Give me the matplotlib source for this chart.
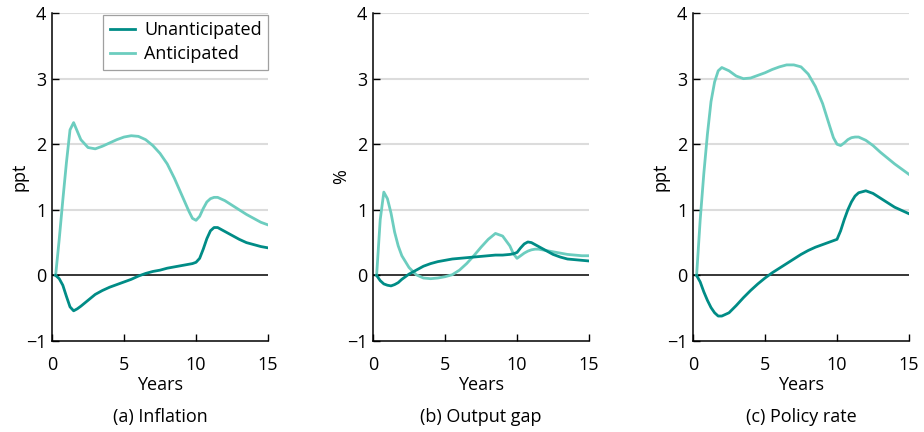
import matplotlib
matplotlib.use("Agg")
import matplotlib.pyplot as plt

plt.rcParams['font.family'] = ['Open Sans', 'DejaVu Sans']

# quarterly-ish horizon, in years
years = [0.25, 0.5, 0.75, 1.0, 1.25, 1.5, 1.75, 2.0, 2.5, 3.0, 3.5, 4.0, 4.5,
         5.0, 5.5, 6.0, 6.5, 7.0, 7.5, 8.0, 8.5, 9.0, 9.5, 9.75, 10.0, 10.25,
         10.5, 10.75, 11.0, 11.25, 11.5, 12.0, 12.5, 13.0, 13.5, 14.0, 14.5, 15.0]

# (a) inflation
infl_unant = [0, -0.05, -0.15, -0.32, -0.48, -0.54, -0.51, -0.47, -0.38, -0.29,
              -0.23, -0.18, -0.14, -0.10, -0.06, -0.01, 0.03, 0.06, 0.08, 0.11,
              0.13, 0.15, 0.17, 0.18, 0.20, 0.26, 0.40, 0.56, 0.68, 0.73, 0.73,
              0.67, 0.61, 0.55, 0.50, 0.47, 0.44, 0.42]
infl_ant = [0, 0.55, 1.15, 1.72, 2.22, 2.33, 2.20, 2.07, 1.95, 1.93, 1.97, 2.02,
            2.07, 2.11, 2.13, 2.12, 2.07, 1.98, 1.86, 1.70, 1.48, 1.23, 0.98,
            0.87, 0.84, 0.90, 1.02, 1.12, 1.17, 1.19, 1.19, 1.14, 1.07, 1.00,
            0.93, 0.87, 0.81, 0.77]

# (b) output gap
gap_unant = [0, -0.08, -0.13, -0.15, -0.16, -0.14, -0.11, -0.06, 0.02, 0.08,
             0.14, 0.18, 0.21, 0.23, 0.25, 0.26, 0.27, 0.28, 0.29, 0.30, 0.31,
             0.31, 0.32, 0.33, 0.35, 0.42, 0.48, 0.51, 0.50, 0.47, 0.44, 0.38,
             0.32, 0.28, 0.25, 0.24, 0.23, 0.22]
gap_ant = [0, 0.85, 1.27, 1.17, 0.95, 0.66, 0.45, 0.30, 0.12, 0.01, -0.04,
           -0.05, -0.04, -0.02, 0.01, 0.08, 0.18, 0.30, 0.43, 0.55, 0.64, 0.60,
           0.45, 0.33, 0.26, 0.30, 0.34, 0.37, 0.39, 0.40, 0.40, 0.38, 0.36,
           0.34, 0.32, 0.31, 0.30, 0.30]

# (c) policy rate
rate_unant = [0, -0.10, -0.25, -0.38, -0.49, -0.57, -0.62, -0.62, -0.57, -0.46,
              -0.34, -0.23, -0.13, -0.04, 0.04, 0.11, 0.18, 0.25, 0.32, 0.38,
              0.43, 0.47, 0.51, 0.53, 0.55, 0.68, 0.85, 1.00, 1.12, 1.21, 1.26,
              1.29, 1.25, 1.18, 1.11, 1.04, 0.99, 0.94]
rate_ant = [0, 0.85, 1.55, 2.15, 2.65, 2.95, 3.12, 3.17, 3.12, 3.04, 3.00, 3.01,
            3.05, 3.09, 3.14, 3.18, 3.21, 3.21, 3.18, 3.07, 2.88, 2.62, 2.27,
            2.10, 2.00, 1.98, 2.02, 2.07, 2.10, 2.11, 2.11, 2.06, 1.98, 1.88,
            1.79, 1.70, 1.62, 1.54]

panels = [
    ("(a) Inflation", "ppt", infl_unant, infl_ant),
    ("(b) Output gap", "%", gap_unant, gap_ant),
    ("(c) Policy rate", "ppt", rate_unant, rate_ant),
]

dark = "#008c86"
light = "#6ccdbf"
fs = 13

fig = plt.figure(figsize=(9.24, 4.32), dpi=100)
lefts = [0.0563, 0.4037, 0.75]

for left, (title, ylab, unant, ant) in zip(lefts, panels):
    ax = fig.add_axes([left, 0.2107, 0.2338, 0.759])
    for g in [1, 2, 3, 4]:
        ax.axhline(g, color="#dcdcdc", lw=1.5, zorder=0)
    ax.axhline(0, color="black", lw=1.1, zorder=1)
    ax.plot(years, unant, color=dark, lw=2.0, label="Unanticipated", zorder=3,
            solid_joinstyle="round")
    ax.plot(years, ant, color=light, lw=2.0, label="Anticipated", zorder=2,
            solid_joinstyle="round")
    ax.set_xlim(0, 15)
    ax.set_ylim(-1, 4)
    ax.set_xticks([0, 5, 10, 15])
    ax.set_yticks([-1, 0, 1, 2, 3, 4])
    ax.set_yticklabels(["\u22121", "0", "1", "2", "3", "4"])
    ax.tick_params(direction="in", length=5, width=1, labelsize=fs)
    ax.tick_params(axis="x", pad=11)
    ax.tick_params(axis="y", pad=4)
    for s in ["top", "right"]:
        ax.spines[s].set_visible(False)
    for s in ["left", "bottom"]:
        ax.spines[s].set_linewidth(1.1)
    ax.set_ylabel(ylab, fontsize=fs, labelpad=-2)
    ax.set_xlabel("Years", fontsize=fs, labelpad=1)
    ax.text(0.5, -0.232, title, transform=ax.transAxes, ha="center",
            va="center", fontsize=fs)
    if left == lefts[0]:
        leg = ax.legend(loc="upper right", fontsize=fs, frameon=True,
                        fancybox=False, edgecolor="#888888", handlelength=1.4,
                        handletextpad=0.5, borderpad=0.35, labelspacing=0.35,
                        bbox_to_anchor=(1.0, 0.995), borderaxespad=0)
        leg.get_frame().set_linewidth(0.9)

fig.savefig("out.png", dpi=100)
